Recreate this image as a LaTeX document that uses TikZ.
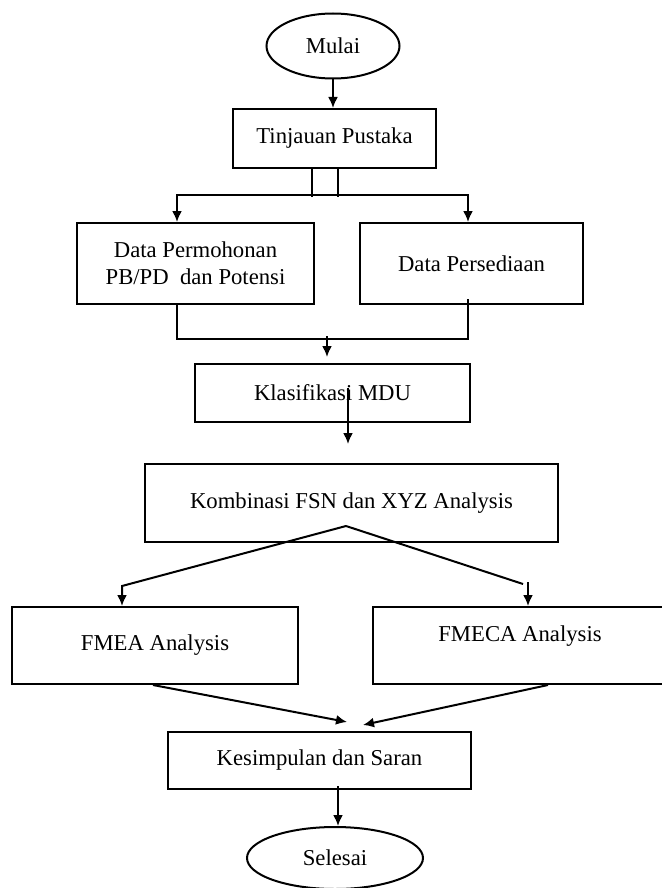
\documentclass[tikz,border=0pt]{standalone}
\usepackage{fontspec}
\setmainfont{Liberation Serif}
\usepackage{tikz}
\usetikzlibrary{arrows.meta}
\usetikzlibrary{shapes.geometric}
\usetikzlibrary{positioning}
\tikzset{proc/.style = {draw, rectangle, line width = 2pt, inner sep = 0, align = center}}
\tikzset{term/.style = {draw, ellipse, line width = 2pt, inner sep = 0}}
\tikzset{>={Latex[length=11pt, width=10pt]}}

\begin{document}
\begin{tikzpicture}[x=1pt, y=-1pt, line width=2pt, font=\fontsize{22.7}{27}\selectfont]
    \useasboundingbox (0, 0) rectangle (661, 888);
    \node [term, minimum width = 133, minimum height = 65] (mulai) at (333, 46) {Mulai};
    \node [proc, minimum width = 203, minimum height = 59] (tinjauan) at (334.5, 138.5) {Tinjauan Pustaka};
    \node [proc, minimum width = 237, minimum height = 81] (permohonan) at (195.5, 263.5) {Data Permohonan\\PB/PD~ dan Potensi};
    \node [proc, minimum width = 223, minimum height = 81] (persediaan) at (471.5, 263.5) {Data Persediaan};
    \node [proc, minimum width = 275, minimum height = 58] (klasifikasi) at (332.5, 393) {Klasifikasi MDU};
    \node [proc, minimum width = 413, minimum height = 78] (kombinasi) at (351.5, 503) {Kombinasi FSN dan XYZ Analysis};
    \node [proc, minimum width = 286, minimum height = 77] (fmea) at (155, 645.5) {FMEA Analysis};
    \node [proc, minimum width = 294, minimum height = 77, text height = 16pt, text depth = 24pt] (fmeca) at (520, 645.5) {FMECA Analysis};
    \node [proc, minimum width = 303, minimum height = 57] (kesimpulan) at (319.5, 760.5) {Kesimpulan dan Saran};
    \node [term, minimum width = 176, minimum height = 62] (selesai) at (335, 858) {Selesai};

    % mulai ke tinjauan
    \draw [->] (mulai.south) -- (mulai.south |- tinjauan.north);
    % cabang ke dua data
    \draw ([xshift=-22.5pt]tinjauan.south) -- ++(0, 27.5);
    \draw ([xshift=3.5pt]tinjauan.south) -- ++(0, 27.5);
    \draw [<->] ([xshift=-18.5pt]permohonan.north) -- ++(0, -27) -| ([xshift=-3.5pt]persediaan.north);
    % gabung ke klasifikasi
    \draw ([xshift=-18.5pt]permohonan.south) -- ++(0, 33.5) -| ([xshift=-3.5pt, yshift=6pt]persediaan.south);
    \draw [->] ([xshift=-5.5pt, yshift=27pt]klasifikasi.north) -- ([xshift=-5.5pt, yshift=6pt]klasifikasi.north);
    \draw [->] ([xshift=15.5pt, yshift=5pt]klasifikasi.center) -- ([xshift=-3.5pt, yshift=19pt]kombinasi.north);
    % cabang ke fmea dan fmeca
    \draw [->] ([xshift=-5.5pt, yshift=-23pt]kombinasi.center) -- ([xshift=-33pt, yshift=20pt]fmea.north) -- ([xshift=-33pt]fmea.north);
    \draw ([xshift=-5.5pt, yshift=-23pt]kombinasi.center) -- ([xshift=3pt, yshift=22pt]fmeca.north);
    \draw [->] ([xshift=8pt, yshift=24pt]fmeca.north) -- ([xshift=8pt]fmeca.north);
    % gabung ke kesimpulan
    \draw [->] ([xshift=-2pt]fmea.south) -- ([xshift=27.5pt, yshift=9pt]kesimpulan.north);
    \draw [->] ([xshift=28pt]fmeca.south) -- ([xshift=43.5pt, yshift=6pt]kesimpulan.north);
    \draw [->] ([xshift=18.5pt, yshift=4pt]kesimpulan.south) -- ([xshift=3pt]selesai.north);
\end{tikzpicture}
\end{document}
